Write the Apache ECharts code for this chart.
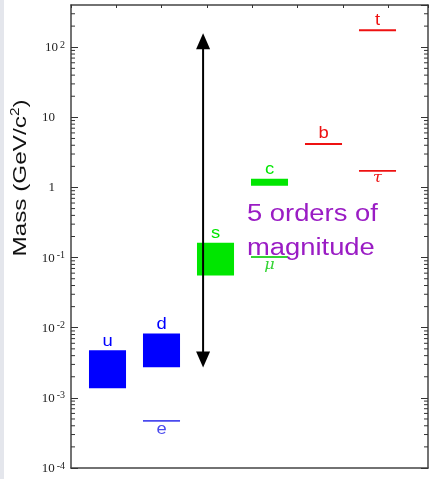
<!DOCTYPE html>
<html><head><meta charset="utf-8">
<script src="https://cdn.jsdelivr.net/npm/echarts@6/dist/echarts.min.js"></script>
<style>html,body{margin:0;padding:0;background:#fff;} #c{width:430px;height:479px;}</style>
</head><body><div id="c"></div><script>
// ---- data ----
const quarkNames = ['u', 'd', 's', 'c', 'b', 't'];
const quarkCol = [0, 1, 2, 3, 4, 5];
const quarkLow = [0.00137, 0.00273, 0.0555, 1.06, 4.18, 175];
const quarkHigh = [0.00476, 0.0083, 0.163, 1.33, 4.18, 175];
const quarkColors = ['#0000ff', '#0000ff', '#00e600', '#00e600', '#ee1111', '#ee1111'];
const leptonNames = ['e', 'μ', 'τ'];
const leptonCol = [1, 3, 5];
const leptonMass = [0.00047, 0.102, 1.73];
const leptonColors = ['#4a4aee', '#33d433', '#ee1111'];
const arrowCol = 1.77;
const arrowTop = 158;
const arrowBottom = 0.0027;
const noteLines = ['5 orders of', 'magnitude'];
const noteCol = 2.583;
const noteMass = 0.72;
const yTickExps = [-4, -3, -2, -1, 0, 1, 2];
const yMin = 1e-4, yMax = 400;
const xMin = -0.676, xMax = 5.935;

const minorVals = [];
for (let e = -4; e <= 2; e++) for (let k = 2; k <= 9; k++) { const v = k * Math.pow(10, e); if (v < yMax) minorVals.push(v); }

const chart = echarts.init(document.getElementById('c'), null, {renderer: 'canvas'});
const axisCol = '#444';
const hw = 0.343;

function yLabel(v) {
  const e = Math.round(Math.log10(v));
  if (Math.abs(Math.log10(v) - e) > 1e-6 || yTickExps.indexOf(e) < 0) return '';
  if (e === 0) return '{p|1}';
  if (e === 1) return '{p|10}';
  return '{b|10}{s|' + (e < 0 ? '-' : '') + Math.abs(e) + '}';
}

const option = {
  backgroundColor: '#ffffff',
  animation: false,
  grid: {left: 71, right: 2, top: 5, bottom: 8, containLabel: false},
  xAxis: [
    {type: 'value', min: xMin, max: xMax, position: 'bottom',
     axisLine: {show: true, onZero: false, lineStyle: {color: axisCol, width: 1.5}},
     axisTick: {show: false}, axisLabel: {show: false}, splitLine: {show: false}},
    {type: 'value', min: 0, max: 7.88, interval: 1, position: 'top',
     axisLine: {show: true, onZero: false, lineStyle: {color: axisCol, width: 1.5}},
     axisTick: {show: true, inside: true, length: 3, lineStyle: {color: '#333'}},
     axisLabel: {show: false}, splitLine: {show: false}}
  ],
  yAxis: [
    {type: 'log', min: yMin, max: yMax, interval: 1, position: 'left',
     axisLine: {show: true, onZero: false, lineStyle: {color: axisCol, width: 1.5}},
     axisTick: {show: true, inside: true, length: 7, lineStyle: {color: '#333'}},
     splitLine: {show: false},
     axisLabel: {show: true, margin: 6, showMaxLabel: false, formatter: yLabel,
       rich: {
         b: {fontFamily: 'Liberation Serif', fontSize: 13, color: '#222', verticalAlign: 'bottom', lineHeight: 14},
         s: {fontFamily: 'Liberation Serif', fontSize: 10, color: '#222', verticalAlign: 'top', lineHeight: 10, padding: [0, 0, 8, 2]},
         p: {fontFamily: 'Liberation Serif', fontSize: 13, color: '#222', padding: [0, 10, 0, 0]}
       }}},
    {type: 'log', min: yMin, max: yMax, interval: 1, position: 'right',
     axisLine: {show: true, onZero: false, lineStyle: {color: axisCol, width: 1.5}},
     axisTick: {show: true, inside: true, length: 7, lineStyle: {color: '#333'}},
     splitLine: {show: false}, axisLabel: {show: false}}
  ],
  graphic: [
    {type: 'rect', left: 0, top: 0, shape: {width: 4, height: 479}, style: {fill: '#e4e6ec'}, silent: true},
    {type: 'text', x: 20, y: 178, rotation: Math.PI / 2, scaleX: 1.28, scaleY: 1,
     style: {text: '{m|Mass (GeV/c}{s|2}{m|)}', align: 'center', verticalAlign: 'middle',
       rich: {m: {fontFamily: 'Liberation Sans', fontSize: 19, fill: '#111', verticalAlign: 'bottom', lineHeight: 20},
              s: {fontFamily: 'Liberation Sans', fontSize: 12, fill: '#111', verticalAlign: 'top', lineHeight: 12, padding: [0, 0, 8, 0]}}}}
  ],
  series: [
    {type: 'custom', name: 'minor', xAxisIndex: 0, yAxisIndex: 0, silent: true, clip: false,
     data: minorVals.map(v => [xMin, v]),
     renderItem: function (params, api) {
       const v = api.value(1);
       const p = api.coord([xMin, v]);
       const q = api.coord([xMax, v]);
       return {type: 'group', children: [
         {type: 'line', shape: {x1: p[0], y1: p[1], x2: p[0] + 4, y2: p[1]}, style: {stroke: '#333', lineWidth: 1}},
         {type: 'line', shape: {x1: q[0] - 4, y1: q[1], x2: q[0], y2: q[1]}, style: {stroke: '#333', lineWidth: 1}}
       ]};
     }},
    {type: 'custom', name: 'quarks', xAxisIndex: 0, yAxisIndex: 0, clip: false,
     data: quarkNames.map((n, i) => [quarkCol[i], quarkLow[i], quarkHigh[i], i]),
     renderItem: function (params, api) {
       const i = api.value(3);
       const c = api.value(0);
       const p1 = api.coord([c - hw, api.value(2)]);
       const p2 = api.coord([c + hw, api.value(1)]);
       const pc = api.coord([c, api.value(2)]);
       let h = p2[1] - p1[1];
       let y0 = p1[1];
       if (h < 2) { h = 2; y0 = p1[1] - 1; }
       return {type: 'group', children: [
         {type: 'rect', shape: {x: p1[0], y: y0, width: p2[0] - p1[0], height: h}, style: {fill: quarkColors[i]}},
         {type: 'text', x: pc[0], y: y0 - 1, scaleX: 1.15,
          style: {text: quarkNames[i], fontFamily: 'Liberation Sans', fontSize: 16, fill: quarkColors[i], align: 'center', verticalAlign: 'bottom'}}
       ]};
     }},
    {type: 'custom', name: 'leptons', xAxisIndex: 0, yAxisIndex: 0, clip: false,
     data: leptonNames.map((n, i) => [leptonCol[i], leptonMass[i], i]),
     renderItem: function (params, api) {
       const i = api.value(2);
       const c = api.value(0);
       const p1 = api.coord([c - hw, api.value(1)]);
       const p2 = api.coord([c + hw, api.value(1)]);
       const pc = api.coord([c, api.value(1)]);
       return {type: 'group', children: [
         {type: 'line', shape: {x1: p1[0], y1: p1[1], x2: p2[0], y2: p2[1]}, style: {stroke: leptonColors[i], lineWidth: 1.8}},
         {type: 'text', x: pc[0], y: pc[1] + 1, scaleX: 1.15,
          style: {text: leptonNames[i], fontFamily: i === 0 ? 'Liberation Sans' : 'DejaVu Serif', fontStyle: i === 0 ? 'normal' : 'italic',
                  fontSize: i === 0 ? 16 : 14, fill: leptonColors[i], align: 'center', verticalAlign: 'top'}}
       ]};
     }},
    {type: 'custom', name: 'arrow', xAxisIndex: 0, yAxisIndex: 0, clip: false, silent: true,
     data: [[arrowCol, arrowTop, arrowBottom]],
     renderItem: function (params, api) {
       const t = api.coord([api.value(0), api.value(1)]);
       const b = api.coord([api.value(0), api.value(2)]);
       const hh = 16, hwid = 7;
       return {type: 'group', children: [
         {type: 'line', shape: {x1: t[0], y1: t[1] + hh - 1, x2: b[0], y2: b[1] - hh + 1}, style: {stroke: '#000', lineWidth: 2}},
         {type: 'polygon', shape: {points: [[t[0], t[1]], [t[0] - hwid, t[1] + hh], [t[0] + hwid, t[1] + hh]]}, style: {fill: '#000'}},
         {type: 'polygon', shape: {points: [[b[0], b[1]], [b[0] - hwid, b[1] - hh], [b[0] + hwid, b[1] - hh]]}, style: {fill: '#000'}}
       ]};
     }},
    {type: 'custom', name: 'note', xAxisIndex: 0, yAxisIndex: 0, clip: false, silent: true,
     data: [[noteCol, noteMass]],
     renderItem: function (params, api) {
       const p = api.coord([api.value(0), api.value(1)]);
       return {type: 'text', x: p[0], y: p[1], scaleX: 1.19,
         style: {text: noteLines.join('\n'), fontFamily: 'Liberation Sans', fontSize: 23, lineHeight: 34,
                 fill: '#9a1cc4', align: 'left', verticalAlign: 'top'}};
     }}
  ]
};
chart.setOption(option);
</script></body></html>
